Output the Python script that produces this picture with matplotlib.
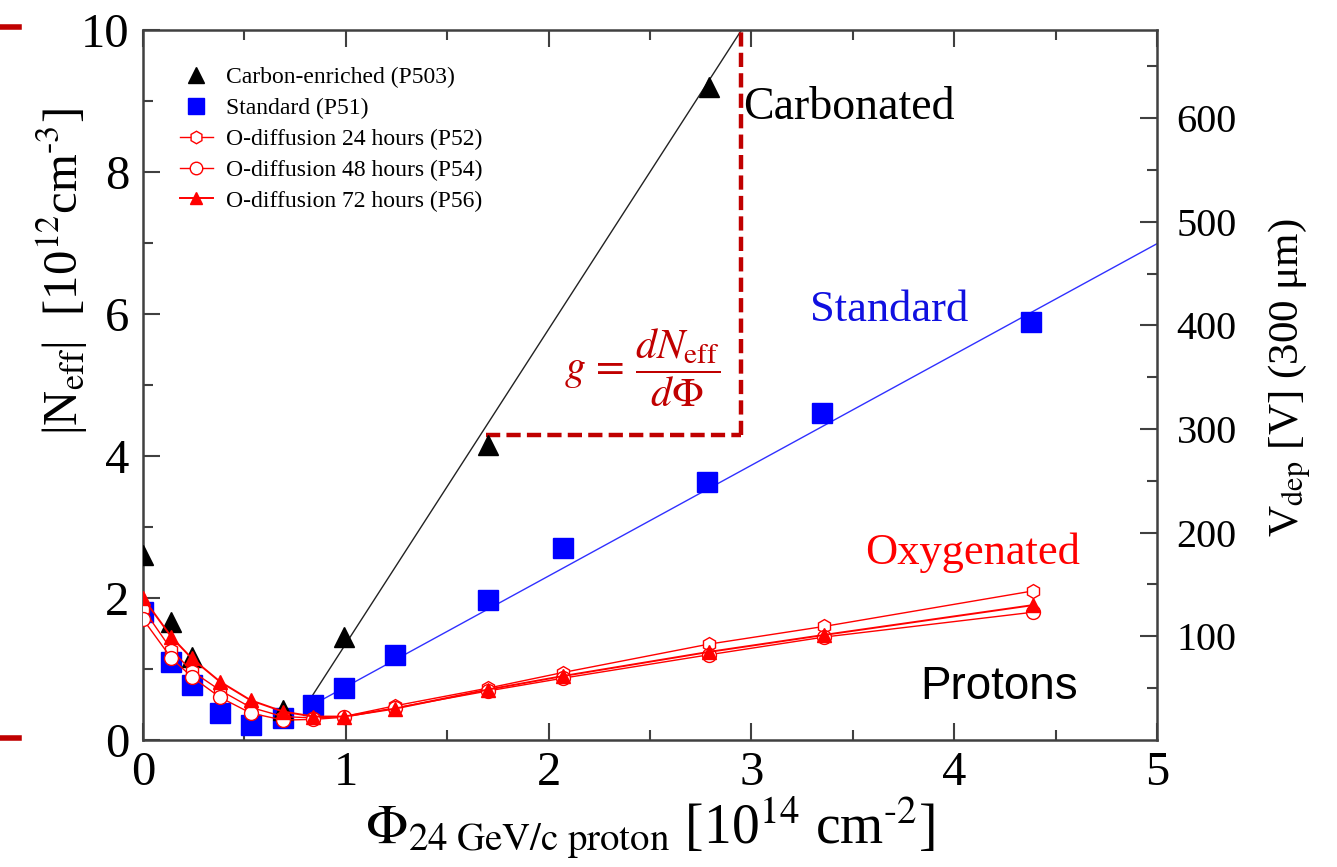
import matplotlib
matplotlib.use("Agg")
import matplotlib.pyplot as plt
from matplotlib.lines import Line2D
import numpy as np

plt.rcParams["font.family"] = ["Liberation Serif", "DejaVu Serif"]
plt.rcParams["mathtext.fontset"] = "stix"

# Fluence [1e14 cm^-2] and |Neff| [1e12 cm^-3]
carbon_phi = [0.0, 0.14, 0.24, 0.69, 0.99, 1.70, 2.79]
carbon_neff = [2.6, 1.66, 1.17, 0.42, 1.45, 4.15, 9.2]

standard_phi = [0.0, 0.14, 0.24, 0.38, 0.53, 0.69, 0.84, 0.99, 1.24, 1.70, 2.07, 2.78, 3.35, 4.38]
standard_neff = [1.8, 1.1, 0.77, 0.38, 0.21, 0.31, 0.49, 0.73, 1.2, 1.97, 2.71, 3.64, 4.6, 5.88]

oxy_phi = [0.0, 0.14, 0.24, 0.38, 0.53, 0.69, 0.84, 0.99, 1.24, 1.70, 2.07, 2.79, 3.36, 4.39]
oxy24_neff = [1.85, 1.27, 0.97, 0.7, 0.46, 0.33, 0.31, 0.33, 0.48, 0.73, 0.95, 1.35, 1.6, 2.1]
oxy48_neff = [1.7, 1.15, 0.89, 0.6, 0.38, 0.28, 0.29, 0.32, 0.45, 0.69, 0.87, 1.2, 1.45, 1.8]
oxy72_neff = [2.0, 1.45, 1.15, 0.82, 0.56, 0.4, 0.33, 0.33, 0.44, 0.71, 0.9, 1.24, 1.48, 1.9]

# Linear fits above the minimum (start point, slope)
carbon_fit_start = (0.80, 0.47)
carbon_fit_slope = 4.43
standard_fit_start = (0.84, 0.5)
standard_fit_slope = 1.56

# Depletion voltage per unit Neff for a 300 um sensor
volt_per_neff = 68.5

fig = plt.figure(figsize=(13.37, 8.67), dpi=100)
ax = fig.add_axes([0.107, 0.1465, 0.7584, 0.819])

RED = "#ff0000"
DARKRED = "#c00000"

# fit lines
cx = np.array([carbon_fit_start[0], 2.98])
ax.plot(cx, carbon_fit_start[1] + carbon_fit_slope * (cx - carbon_fit_start[0]),
        color="#222222", lw=1.0, zorder=2)
sx = np.array([standard_fit_start[0], 5.0])
ax.plot(sx, standard_fit_start[1] + standard_fit_slope * (sx - standard_fit_start[0]),
        color="#3030ff", lw=1.0, zorder=2)

# data
ax.plot(carbon_phi, carbon_neff, ls="none", marker="^", ms=14, color="black", zorder=4)
ax.plot(standard_phi, standard_neff, ls="none", marker="s", ms=15, color="#0000ff", zorder=3)
ax.plot(oxy_phi, oxy24_neff, color=RED, lw=1.0, marker="h", ms=10,
        mfc="white", mec=RED, mew=1.0, zorder=5)
ax.plot(oxy_phi, oxy48_neff, color=RED, lw=1.0, marker="o", ms=10,
        mfc="white", mec=RED, mew=1.0, zorder=5)
ax.plot(oxy_phi, oxy72_neff, color=RED, lw=1.4, marker="^", ms=10, zorder=6)

ax.set_xlim(0, 5)
ax.set_ylim(0, 10)
ax.set_xticks([0, 1, 2, 3, 4, 5])
ax.set_xticks(np.arange(0.5, 5, 1.0), minor=True)
ax.set_yticks([0, 2, 4, 6, 8, 10])
ax.set_yticks([1, 3, 5, 7, 9], minor=True)
ax.tick_params(which="both", direction="in", top=True, right=False, labelsize=35,
               color="#404040", width=1.5)
ax.tick_params(which="major", length=12)
ax.tick_params(which="minor", length=7)
ax.tick_params(axis="x", pad=8)
ax.tick_params(axis="y", pad=10)
for s in ax.spines.values():
    s.set_color("#404040")
    s.set_linewidth(1.8)

ax.set_xlabel(r"$\Phi_{\mathrm{24\ GeV/c\ proton}}$ [10$^{14}$ cm$^{\text{-2}}$]", fontsize=40,
              labelpad=0)
ax.set_ylabel(r"|N$_{\mathrm{eff}}$|  [10$^{12}$cm$^{\text{-3}}$]", fontsize=35)
ax.yaxis.set_label_coords(-0.052, 0.66)

# right axis: depletion voltage
ax2 = ax.twinx()
ax2.set_ylim(0, 10 * volt_per_neff)
ax2.set_yticks([100, 200, 300, 400, 500, 600])
ax2.set_yticks(np.arange(50, 690, 100), minor=True)
ax2.tick_params(which="both", direction="in", labelsize=29, color="#404040", width=1.5)
ax2.tick_params(which="major", length=12, pad=14)
ax2.tick_params(which="minor", length=7)
for s in ax2.spines.values():
    s.set_visible(False)
ax2.set_ylabel(r"V$_{\mathrm{dep}}$ [V] (300 μm)", fontsize=31)
ax2.yaxis.set_label_coords(1.108, 0.51)

# annotations
ax.text(2.96, 8.9, "Carbonated", fontsize=33, color="black", ha="left", va="center")
ax.text(3.29, 6.05, "Standard", fontsize=32, color="#1010e0", ha="left", va="center")
ax.text(3.56, 2.63, "Oxygenated", fontsize=32, color=RED, ha="left", va="center")
ax.text(3.83, 0.75, "Protons", fontsize=33, color="black", ha="left", va="center",
        family=["Liberation Sans", "DejaVu Sans"])
ax.text(2.46, 5.25, r"$g\,=\,\dfrac{dN_{\mathrm{eff}}}{d\Phi}$", fontsize=30,
        color=DARKRED, ha="center", va="center")

# slope triangle
ax.plot([1.69, 2.95], [4.29, 4.29], color=DARKRED, lw=3.2, ls=(0, (3.2, 1.4)), zorder=3)
ax.plot([2.95, 2.95], [4.29, 10.0], color=DARKRED, lw=3.2, ls=(0, (3.2, 1.4)), zorder=3,
        clip_on=False)

# legend
handles = [
    Line2D([], [], ls="none", marker="^", ms=11, color="black"),
    Line2D([], [], ls="none", marker="s", ms=12, color="#0000ff"),
    Line2D([], [], color=RED, lw=1.0, marker="h", ms=9, mfc="white", mec=RED),
    Line2D([], [], color=RED, lw=1.0, marker="o", ms=9, mfc="white", mec=RED),
    Line2D([], [], color=RED, lw=1.4, marker="^", ms=9),
]
labels = ["Carbon-enriched (P503)", "Standard (P51)", "O-diffusion 24 hours (P52)",
          "O-diffusion 48 hours (P54)", "O-diffusion 72 hours (P56)"]
ax.legend(handles, labels, loc="upper left", bbox_to_anchor=(0.027, 0.962), frameon=False,
          fontsize=17, handlelength=1.4, handletextpad=0.55, labelspacing=0.4,
          borderaxespad=0.0)

# red edge marks
fig.add_artist(Line2D([0.0, 0.014], [1 - 27 / 867, 1 - 27 / 867], color=DARKRED, lw=4,
                      transform=fig.transFigure))
fig.add_artist(Line2D([0.0, 0.014], [1 - 738 / 867, 1 - 738 / 867], color=DARKRED, lw=4,
                      transform=fig.transFigure))

fig.savefig("out.png", dpi=100)
